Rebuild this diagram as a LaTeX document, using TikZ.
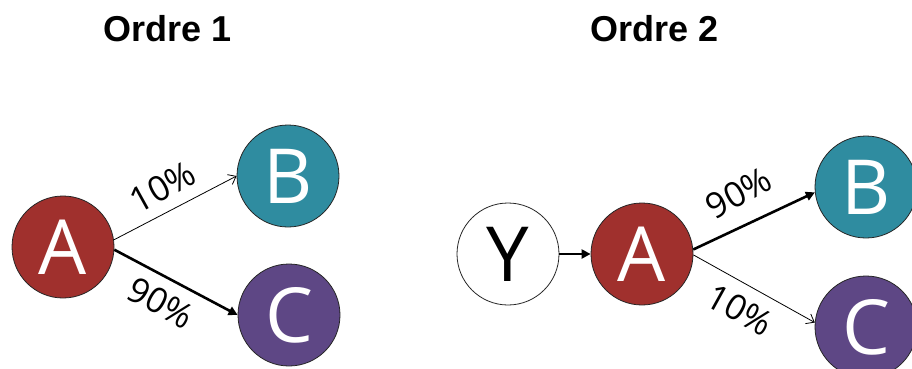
\documentclass[tikz,border=0pt]{standalone}
\usepackage{fontspec}
\setmainfont{Liberation Sans}
\newfontfamily\letterfont{Open Sans}
\usetikzlibrary{arrows.meta}
\definecolor{colA}{RGB}{160,48,45}
\definecolor{colB}{RGB}{47,140,160}
\definecolor{colC}{RGB}{94,71,133}
\tikzset{
  ball/.style={circle, draw=black!85, line width=0.8pt, minimum size=102pt, inner sep=0pt,
    font=\letterfont\fontsize{76}{76}\selectfont, text=white},
  title/.style={font=\bfseries\fontsize{36}{36}\selectfont},
  pct/.style={font=\letterfont\fontsize{35}{35}\selectfont, inner sep=0pt},
  thinarrow/.style={line width=0.8pt, -{Straight Barb[length=7pt,width=11pt,line width=0.8pt]}},
  thickarrow/.style={line width=2.6pt, -{Triangle[length=9pt,width=9pt]}},
}
\begin{document}
\begin{tikzpicture}[x=1pt,y=-1pt]
\useasboundingbox (0,0) rectangle (912,369);
\clip (0,0) rectangle (912,369);
\node[title] (t1) at (168,29) {Ordre 1};
\node[title] (t2) at (655,29) {Ordre 2};
% left
\node[ball, fill=colA] (A1) at (63,247) {A};
\node[ball, fill=colB] (B1) at (288,176) {B};
\node[ball, fill=colC] (C1) at (289,315) {C};
\draw[thinarrow] (A1.8) -- (B1.west);
\draw[thickarrow] (A1.-3) -- (C1.west);
\node[pct, rotate=29] (p1) at (163,187) {10\%};
\node[pct, rotate=-29] (p2) at (161,303) {90\%};
% right
\node[ball, fill=white, text=black] (Y2) at (508,254) {Y};
\node[ball, fill=colA] (A2) at (642,254) {A};
\node[ball, fill=colB] (B2) at (866,187) {B};
\node[ball, fill=colC] (C2) at (866,327) {C};
\draw[thickarrow] (Y2.east) -- (A2.west);
\draw[thickarrow] (A2.5) -- (B2.186);
\draw[thinarrow] (A2.-1) -- (C2.175);
\node[pct, rotate=29] (p3) at (739,193) {90\%};
\node[pct, rotate=-29] (p4) at (740,310) {10\%};
\end{tikzpicture}
\end{document}
